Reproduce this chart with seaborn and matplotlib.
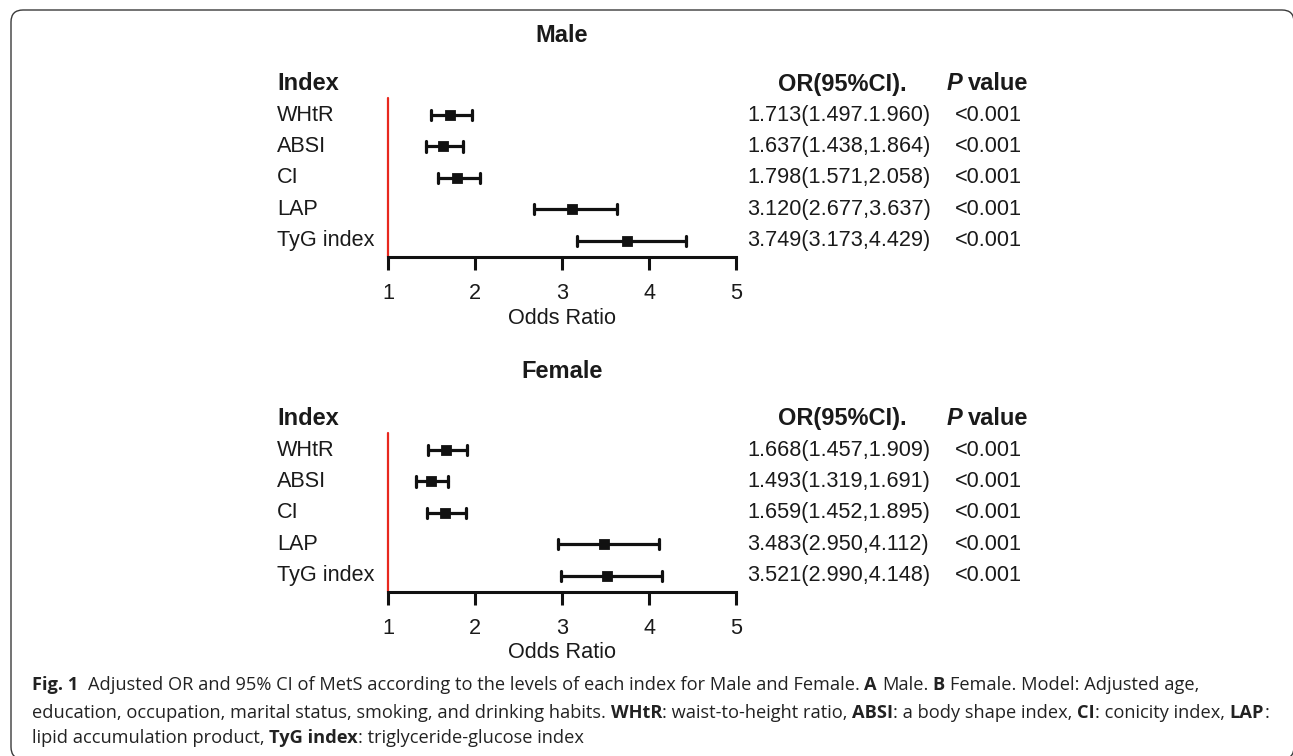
import numpy as np
import pandas as pd
import matplotlib
matplotlib.use("Agg")
import matplotlib.pyplot as plt
import seaborn as sns
from matplotlib.patches import FancyBboxPatch
from matplotlib.transforms import blended_transform_factory, IdentityTransform

# ---------------- data ----------------
indices = ["WHtR", "ABSI", "CI", "LAP", "TyG index"]

male_or = [1.713, 1.637, 1.798, 3.120, 3.749]
male_lo = [1.497, 1.438, 1.571, 2.677, 3.173]
male_hi = [1.960, 1.864, 2.058, 3.637, 4.429]
male_labels = ["1.713(1.497.1.960)", "1.637(1.438,1.864)", "1.798(1.571,2.058)",
               "3.120(2.677,3.637)", "3.749(3.173,4.429)"]

female_or = [1.668, 1.493, 1.659, 3.483, 3.521]
female_lo = [1.457, 1.319, 1.452, 2.950, 2.990]
female_hi = [1.909, 1.691, 1.895, 4.112, 4.148]
female_labels = ["1.668(1.457,1.909)", "1.493(1.319,1.691)", "1.659(1.452,1.895)",
                 "3.483(2.950,4.112)", "3.521(2.990,4.148)"]

p_values = ["<0.001"] * 5
x_ticks = [1, 2, 3, 4, 5]

# ---------------- style ----------------
sns.set_style("white")
plt.rcParams["font.family"] = ["Liberation Sans", "DejaVu Sans"]
TXT = "#1a1a1a"
RED = "#e8281e"

W, H = 1293, 756
fig = plt.figure(figsize=(W / 100, H / 100), dpi=100)
fig.patch.set_facecolor("white")


def fx(px):
    return px / W


def fy(py):
    return 1 - py / H


LAB = 15.6
HDR = 17

panels = [
    ("Male", male_or, male_lo, male_hi, male_labels, 36, 84, 98, 257),
    ("Female", female_or, female_lo, female_hi, female_labels, 372, 419, 433, 592),
]

renderer = fig.canvas.get_renderer()

for title, orv, lo, hi, labels, ty, hy, top, bot in panels:
    ax = fig.add_axes([fx(388), fy(bot), fx(736) - fx(388), (bot - top) / H])
    ax.set_facecolor("none")
    df = pd.DataFrame({
        "index": np.repeat(indices, 3),
        "value": np.column_stack([lo, orv, hi]).ravel(),
    })
    sns.pointplot(data=df, x="value", y="index", order=indices,
                  estimator="median", errorbar=("pi", 100),
                  color="#111111", marker="s", markersize=6.3, linestyle="none",
                  capsize=0.32, err_kws={"linewidth": 2.3}, ax=ax)
    ax.set_xlim(1, 5)
    ax.set_ylim(4.51, -0.54)
    for s in ["left", "top", "right"]:
        ax.spines[s].set_visible(False)
    ax.spines["bottom"].set_linewidth(2.2)
    ax.spines["bottom"].set_color("#111111")
    ax.spines["bottom"].set_bounds(1, 5)
    ax.set_xticks(x_ticks)
    ax.set_xticklabels([str(t) for t in x_ticks])
    ax.tick_params(axis="x", direction="out", length=9.5, width=2.2, color="#111111",
                   labelsize=LAB, labelcolor=TXT, pad=9, bottom=True)
    ax.set_yticks([])
    ax.set_xlabel("")
    ax.set_ylabel("")
    ax.axvline(1, color=RED, lw=1.6, clip_on=False, zorder=0)
    ax.grid(False)

    tr = blended_transform_factory(fig.transFigure, ax.transData)
    for i, name in enumerate(indices):
        fig.text(fx(277), i, name, transform=tr, ha="left", va="center",
                 fontsize=LAB, color=TXT)
        fig.text(fx(747), i, labels[i], transform=tr, ha="left", va="center",
                 fontsize=LAB, color=TXT)
        fig.text(fx(988), i, p_values[i], transform=tr, ha="center", va="center",
                 fontsize=LAB, color=TXT)

    fig.text(fx(562), fy(ty), title, ha="center", va="center", fontsize=HDR,
             fontweight="bold", color=TXT)
    fig.text(fx(277), fy(hy), "Index", ha="left", va="center", fontsize=HDR,
             fontweight="bold", color=TXT)
    fig.text(fx(842), fy(hy), "OR(95%CI).", ha="center", va="center", fontsize=HDR,
             fontweight="bold", color=TXT)
    tp = fig.text(fx(947), fy(hy), "P", ha="left", va="center", fontsize=HDR,
                  fontweight="bold", fontstyle="italic", color=TXT)
    wp = tp.get_window_extent(renderer).width
    fig.text(fx(947 + wp + 5), fy(hy), "value", ha="left", va="center", fontsize=HDR,
             fontweight="bold", color=TXT)
    fig.text(fx(562), fy(bot + 61), "Odds Ratio", ha="center", va="center",
             fontsize=LAB, color=TXT)

# ---------------- frame ----------------
frame = FancyBboxPatch((11, H - 759), 1294 - 11, 759 - 10,
                       boxstyle="round,pad=0,rounding_size=12",
                       fill=False, ec="#3a3a3a", lw=1.0,
                       transform=IdentityTransform())
fig.add_artist(frame)

# ---------------- caption ----------------
CAP_FAM = ["Open Sans", "DejaVu Sans"]
cap_lines = [
    (685, [("Fig. 1", "bold"),
           ("  Adjusted OR and 95% CI of MetS according to the levels of each index for Male and Female. ", "normal"),
           ("A", "bold"), (" Male. ", "normal"), ("B", "bold"),
           (" Female. Model: Adjusted age,", "normal")]),
    (713, [("education, occupation, marital status, smoking, and drinking habits. ", "normal"),
           ("WHtR", "bold"), (": waist-to-height ratio, ", "normal"),
           ("ABSI", "bold"), (": a body shape index, ", "normal"),
           ("CI", "bold"), (": conicity index, ", "normal"),
           ("LAP", "bold"), (":", "normal")]),
    (738, [("lipid accumulation product, ", "normal"), ("TyG index", "bold"),
           (": triglyceride-glucose index", "normal")]),
]


def draw_line(x0, y, segs, size, keep=True):
    arts = []
    t1 = fig.text(0, 0, "a a", fontsize=size, family=CAP_FAM)
    t2 = fig.text(0, 0, "aa", fontsize=size, family=CAP_FAM)
    sp = t1.get_window_extent(renderer).width - t2.get_window_extent(renderer).width
    t1.remove()
    t2.remove()
    x = x0
    for text, wt in segs:
        lead = len(text) - len(text.lstrip(" "))
        trail = len(text) - len(text.rstrip(" "))
        core = text.strip(" ")
        x += lead * sp
        t = fig.text(fx(x), fy(y), core, ha="left", va="center", fontsize=size,
                     fontweight=wt, family=CAP_FAM, color="#222222")
        x += t.get_window_extent(renderer).width
        x += trail * sp
        arts.append(t)
    if not keep:
        for a in arts:
            a.remove()
    return x - x0


s0 = 12.0
w1 = draw_line(32, 685, cap_lines[0][1], s0, keep=False)
w2 = draw_line(32, 713, cap_lines[1][1], s0, keep=False)
size = s0 * 0.5 * (1166 / w1 + 1233 / w2)
for y, segs in cap_lines:
    draw_line(32, y, segs, size)

fig.savefig("out.png", dpi=100, facecolor="white")
